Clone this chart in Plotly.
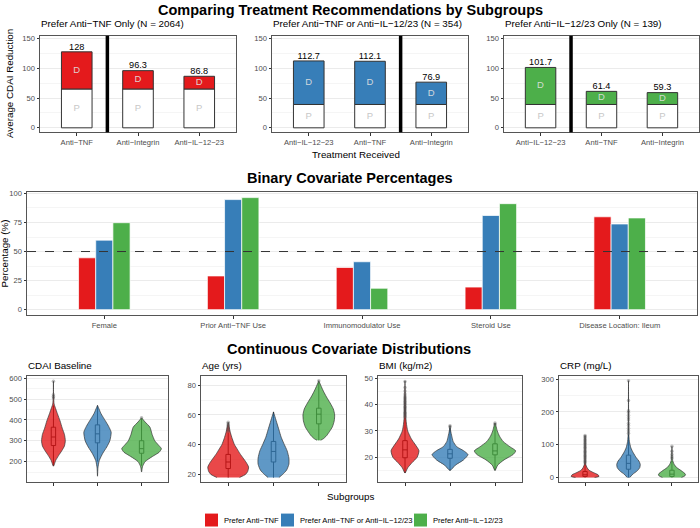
import plotly.graph_objects as go

W, H = 700, 528
FONT = "Liberation Sans, Arial, sans-serif"
GROUP_COLORS = ["#E41A1C", "#377EB8", "#4DAF4A"]
GROUP_FILLS = ["rgba(228,26,28,0.8)", "rgba(55,126,184,0.8)", "rgba(77,175,74,0.8)"]
legend_names = ["Prefer Anti−TNF", "Prefer Anti−TNF or Anti−IL−12/23", "Prefer Anti−IL−12/23"]

# ---------------- Top: treatment comparison ----------------
main_title = "Comparing Treatment Recommendations by Subgroups"
panel_titles = ["Prefer Anti−TNF Only (N = 2064)",
                "Prefer Anti−TNF or Anti−IL−12/23 (N = 354)",
                "Prefer Anti−IL−12/23 Only (N = 139)"]
treat_1 = ["Anti−TNF", "Anti−Integrin", "Anti−IL−12−23"]
treat_2 = ["Anti−IL−12−23", "Anti−TNF", "Anti−Integrin"]
treat_3 = ["Anti−IL−12−23", "Anti−TNF", "Anti−Integrin"]
total_1 = [128, 96.3, 86.8]
total_2 = [112.7, 112.1, 76.9]
total_3 = [101.7, 61.4, 59.3]
prog_1 = [65.4, 65.4, 65.4]
prog_2 = [39.3, 39.3, 39.3]
prog_3 = [39.3, 39.3, 39.3]
n_recommended = [1, 2, 1]

# ---------------- Middle: binary covariates ----------------
bin_title = "Binary Covariate Percentages"
bin_cats = ["Female", "Prior Anti−TNF Use", "Immunomodulator Use", "Steroid Use", "Disease Location: Ileum"]
bin_tnf = [44.6, 29.0, 36.3, 19.4, 79.9]
bin_both = [59.8, 94.7, 41.2, 81.0, 73.7]
bin_il = [74.8, 96.4, 18.4, 91.2, 78.9]
ref_line = 50

# ---------------- Bottom: continuous covariates ----------------
cont_title = "Continuous Covariate Distributions"
cont_titles = ["CDAI Baseline", "Age (yrs)", "BMI (kg/m2)", "CRP (mg/L)"]

# violin profiles: value levels and half-widths; box = [lower, q1, median, q3, upper]
cdai_tnf_y = [178, 205, 230, 252, 275, 300, 330, 360, 395, 430, 460, 476, 520, 585]
cdai_tnf_w = [0.0, 0.05, 0.12, 0.19, 0.25, 0.27, 0.25, 0.2, 0.15, 0.09, 0.04, 0.015, 0.003, 0.0]
cdai_tnf_box = [180, 277, 318, 365, 470]
cdai_tnf_out = [505, 512, 520, 585]
cdai_both_y = [130, 170, 205, 240, 270, 300, 341, 370, 395, 430, 470]
cdai_both_w = [0.0, 0.01, 0.04, 0.12, 0.21, 0.28, 0.31, 0.25, 0.18, 0.08, 0.0]
cdai_both_box = [200, 290, 333, 376, 468]
cdai_both_out = []
cdai_il_y = [150, 175, 200, 225, 245, 262, 280, 300, 330, 365, 390, 410]
cdai_il_w = [0.0, 0.02, 0.08, 0.25, 0.4, 0.45, 0.38, 0.3, 0.24, 0.19, 0.08, 0.0]
cdai_il_box = [180, 240, 262, 300, 405]
cdai_il_out = [410]

age_tnf_y = [18, 20, 22, 25, 28, 31, 34, 37, 40, 44, 48, 52, 55]
age_tnf_w = [0.25, 0.38, 0.43, 0.45, 0.4, 0.33, 0.26, 0.2, 0.14, 0.09, 0.05, 0.02, 0.0]
age_tnf_box = [18, 24, 28.4, 33.5, 48]
age_tnf_out = [49, 50, 51, 52, 53, 54, 55]
age_both_y = [18, 20, 23, 27, 31, 36, 40, 45, 50, 55, 60, 62]
age_both_w = [0.12, 0.2, 0.29, 0.34, 0.34, 0.3, 0.24, 0.17, 0.12, 0.07, 0.02, 0.0]
age_both_box = [18, 28.4, 35.5, 42.2, 62]
age_both_out = []
age_il_y = [43, 44, 46, 49, 52, 56, 60, 64, 68, 72, 76, 80, 83]
age_il_w = [0.04, 0.1, 0.17, 0.24, 0.3, 0.34, 0.35, 0.32, 0.25, 0.17, 0.1, 0.04, 0.0]
age_il_box = [43, 54, 60.5, 64.5, 82]
age_il_out = [83]

bmi_tnf_y = [14, 16, 18, 20, 22.5, 25, 27, 30, 33, 36, 40, 45, 49]
bmi_tnf_w = [0.0, 0.06, 0.16, 0.27, 0.31, 0.22, 0.14, 0.06, 0.03, 0.015, 0.008, 0.003, 0.0]
bmi_tnf_box = [14, 19.8, 22.8, 26.3, 35]
bmi_tnf_out = [35.3, 35.8, 36.2, 36.7, 37.1, 37.6, 38.0, 38.5, 39.0, 39.4, 39.9, 40.3,
               40.8, 41.3, 41.7, 42.2, 42.7, 43.3, 44.0, 45.2, 46.5, 48.8]
bmi_both_y = [15, 17, 19, 21, 22.5, 24, 26, 28, 30, 32]
bmi_both_w = [0.0, 0.12, 0.3, 0.4, 0.3, 0.15, 0.07, 0.04, 0.015, 0.0]
bmi_both_box = [15, 19.6, 21.3, 23.0, 31]
bmi_both_out = [31.5, 32]
bmi_il_y = [15, 17, 19, 21, 22.4, 24, 26, 28, 30, 32, 33]
bmi_il_w = [0.0, 0.06, 0.2, 0.4, 0.46, 0.33, 0.18, 0.1, 0.05, 0.02, 0.0]
bmi_il_box = [15, 20.9, 22.4, 25.1, 32]
bmi_il_out = [32.5, 33]

crp_tnf_y = [0, 3, 8, 15, 22, 30, 40, 50, 128]
crp_tnf_w = [0.22, 0.32, 0.3, 0.19, 0.09, 0.045, 0.015, 0.005, 0.0]
crp_tnf_box = [0, 3, 8, 18, 40]
crp_tnf_out = [44, 48, 52, 56, 60, 64, 68, 72, 76, 80, 84, 88, 92, 96, 100, 104,
               108, 112, 116, 120, 124, 128]
crp_both_y = [0, 10, 20, 30, 40, 50, 60, 75, 90, 110, 140, 200, 295]
crp_both_w = [0.03, 0.1, 0.2, 0.26, 0.27, 0.24, 0.18, 0.11, 0.055, 0.02, 0.005, 0.002, 0.0]
crp_both_box = [0, 25, 43, 68, 130]
crp_both_out = [135, 142, 150, 158, 165, 175, 182, 190, 198, 203, 235, 295]
crp_il_y = [0, 5, 10, 20, 30, 40, 55, 95]
crp_il_w = [0.22, 0.3, 0.31, 0.22, 0.11, 0.05, 0.01, 0.0]
crp_il_box = [0, 3, 10, 22, 50]
crp_il_out = [58, 63, 70, 80, 95]

# ======================================================================
def dom_x(a, b):
    return [a / W, b / W]


def dom_y(top, bottom):
    return [1 - bottom / H, 1 - top / H]


def px(x):
    return x / W


def py(y):
    return 1 - y / H


fig = go.Figure()
annotations = []
shapes = []


def txt(x, y, s, size, color="black", bold=False, xanchor="center", yanchor="middle", angle=0):
    annotations.append(dict(
        x=px(x), y=py(y), xref="paper", yref="paper", showarrow=False,
        text=f"<b>{s}</b>" if bold else s, textangle=angle,
        xanchor=xanchor, yanchor=yanchor, borderpad=0,
        font=dict(family=FONT, size=size, color=color)))


TICKFONT = dict(family=FONT, size=7.6, color="#4d4d4d")
FRAME = "#555555"


def xaxis_def(dom, anchor, rng, tickvals, ticktext, show_labels=True):
    return dict(domain=dom, anchor=anchor, range=rng, tickmode="array", tickvals=tickvals,
                ticktext=ticktext, showticklabels=show_labels, showgrid=False, zeroline=False,
                showline=True, mirror=True, linecolor=FRAME, linewidth=1,
                ticks="outside", ticklen=2.5, tickcolor="#333333", tickfont=TICKFONT)


def yaxis_def(dom, anchor, rng, dtick):
    return dict(domain=dom, anchor=anchor, range=rng, tickmode="linear", tick0=0, dtick=dtick,
                showgrid=True, gridcolor="#EBEBEB", gridwidth=1, zeroline=False,
                minor=dict(dtick=dtick / 2, showgrid=True, gridcolor="#F5F5F5", gridwidth=0.6),
                showline=True, mirror=True, linecolor=FRAME, linewidth=1,
                ticks="outside", ticklen=2.5, tickcolor="#333333", tickfont=TICKFONT)


layout_axes = {}

# ---------------- Top panels ----------------
txt(350, 7, main_title, 14.5, bold=True)
top_treat = [treat_1, treat_2, treat_3]
top_total = [total_1, total_2, total_3]
top_prog = [prog_1, prog_2, prog_3]
top_px = [(40, 236), (272, 468), (504, 699)]
for p in range(3):
    k = "" if p == 0 else str(p + 1)
    xa, ya = "x" + k, "y" + k
    cats = top_treat[p]
    pos = list(range(1, len(cats) + 1))
    tot = top_total[p]
    prog = top_prog[p]
    drug = [t - g for t, g in zip(tot, prog)]
    fig.add_trace(go.Bar(x=pos, y=prog, width=0.5, xaxis=xa, yaxis=ya, showlegend=False,
                         marker=dict(color="white", line=dict(color="#333333", width=1)),
                         hoverinfo="skip"))
    fig.add_trace(go.Bar(x=pos, y=drug, base=prog, width=0.5, xaxis=xa, yaxis=ya, showlegend=False,
                         marker=dict(color=GROUP_COLORS[p], line=dict(color="#333333", width=1)),
                         hoverinfo="skip"))
    fig.add_trace(go.Scatter(x=pos, y=tot, mode="text", text=[f"{v:g}" for v in tot],
                             textposition="top center", xaxis=xa, yaxis=ya, showlegend=False,
                             textfont=dict(family=FONT, size=9.2, color="black"),
                             hoverinfo="skip", cliponaxis=False))
    fig.add_trace(go.Scatter(x=pos, y=[g / 2 for g in prog], mode="text", text=["P"] * len(pos),
                             textposition="middle center", xaxis=xa, yaxis=ya, showlegend=False,
                             textfont=dict(family=FONT, size=9.5, color="#c8c8c8"), hoverinfo="skip"))
    fig.add_trace(go.Scatter(x=pos, y=[g + d / 2 for g, d in zip(prog, drug)], mode="text",
                             text=["D"] * len(pos), textposition="middle center", xaxis=xa, yaxis=ya,
                             showlegend=False,
                             textfont=dict(family=FONT, size=9.5, color="rgba(225,225,225,0.9)"),
                             hoverinfo="skip"))
    shapes.append(dict(type="line", xref=xa, yref=ya + " domain", x0=n_recommended[p] + 0.5,
                       x1=n_recommended[p] + 0.5, y0=0, y1=1, line=dict(color="black", width=3.5)))
    layout_axes["xaxis" + k] = xaxis_def(dom_x(*top_px[p]), ya, [0.4, len(cats) + 0.6], pos, cats)
    layout_axes["yaxis" + k] = yaxis_def(dom_y(33, 130), xa, [-7.5, 155], 50)
    txt(top_px[p][0], 21, panel_titles[p], 9.8, xanchor="left")

txt(9, 81.5, "Average CDAI Reduction", 9.8, angle=-90)
txt(356, 152, "Treatment Received", 9.8)

# ---------------- Middle: binary ----------------
txt(350, 176.5, bin_title, 14.5, bold=True)
bin_pos = list(range(1, len(bin_cats) + 1))
bin_series = [bin_tnf, bin_both, bin_il]
group_w = 0.4
for g, vals in enumerate(bin_series):
    fig.add_trace(go.Bar(x=bin_pos, y=vals, width=group_w / 3, offset=-group_w / 2 + g * group_w / 3,
                         xaxis="x4", yaxis="y4", showlegend=False, hoverinfo="skip",
                         marker=dict(color=GROUP_COLORS[g], line=dict(color="rgba(255,255,255,0.9)", width=0.8))))
shapes.append(dict(type="line", xref="x4 domain", yref="y4", x0=0, x1=1, y0=ref_line, y1=ref_line,
                   line=dict(color="#333333", width=1, dash="dash")))
layout_axes["xaxis4"] = xaxis_def(dom_x(27, 697), "y4", [0.4, len(bin_cats) + 0.6], bin_pos, bin_cats)
layout_axes["yaxis4"] = yaxis_def(dom_y(190, 314), "x4", [-4.8, 101.3], 25)
txt(5, 252, "Percentage (%)", 9.8, angle=-90)

# ---------------- Bottom: continuous ----------------
txt(349, 347.5, cont_title, 14.5, bold=True)
cont_profiles = [
    [(cdai_tnf_y, cdai_tnf_w, cdai_tnf_box, cdai_tnf_out),
     (cdai_both_y, cdai_both_w, cdai_both_box, cdai_both_out),
     (cdai_il_y, cdai_il_w, cdai_il_box, cdai_il_out)],
    [(age_tnf_y, age_tnf_w, age_tnf_box, age_tnf_out),
     (age_both_y, age_both_w, age_both_box, age_both_out),
     (age_il_y, age_il_w, age_il_box, age_il_out)],
    [(bmi_tnf_y, bmi_tnf_w, bmi_tnf_box, bmi_tnf_out),
     (bmi_both_y, bmi_both_w, bmi_both_box, bmi_both_out),
     (bmi_il_y, bmi_il_w, bmi_il_box, bmi_il_out)],
    [(crp_tnf_y, crp_tnf_w, crp_tnf_box, crp_tnf_out),
     (crp_both_y, crp_both_w, crp_both_box, crp_both_out),
     (crp_il_y, crp_il_w, crp_il_box, crp_il_out)],
]
cont_ranges = [[101, 611], [14.8, 86.2], [10.5, 50.9], [-14.75, 309.75]]
cont_dticks = [100, 20, 10, 100]
cont_px = [(27, 168), (201, 346), (378, 522), (559, 698)]
for v in range(4):
    k = str(v + 5)
    xa, ya = "x" + k, "y" + k
    for g, (ys, ws, box, outs) in enumerate(cont_profiles[v]):
        pos = g + 1
        vx = [pos + w for w in ws] + [pos - w for w in reversed(ws)]
        vy = list(ys) + list(reversed(ys))
        fig.add_trace(go.Scatter(x=vx, y=vy, mode="lines", fill="toself",
                                 fillcolor=GROUP_FILLS[g],
                                 line=dict(color="#333333", width=0.7, shape="spline", smoothing=0.6),
                                 xaxis=xa, yaxis=ya, showlegend=False, hoverinfo="skip"))
        fig.add_trace(go.Box(x=[pos], lowerfence=[box[0]], q1=[box[1]], median=[box[2]],
                             q3=[box[3]], upperfence=[box[4]], width=0.1, whiskerwidth=0,
                             fillcolor="rgba(0,0,0,0)", line=dict(color="black", width=1),
                             boxpoints=False, xaxis=xa, yaxis=ya, showlegend=False, hoverinfo="skip"))
        if outs:
            fig.add_trace(go.Scatter(x=[pos] * len(outs), y=outs, mode="markers",
                                     marker=dict(size=3.5, color="rgba(70,70,70,0.35)"),
                                     xaxis=xa, yaxis=ya, showlegend=False, hoverinfo="skip"))
    layout_axes["xaxis" + k] = xaxis_def(dom_x(*cont_px[v]), ya, [0.4, 3.6], [1, 2, 3],
                                         ["", "", ""], show_labels=False)
    layout_axes["yaxis" + k] = yaxis_def(dom_y(375, 482), xa, cont_ranges[v], cont_dticks[v])
    txt(cont_px[v][0], 365, cont_titles[v], 9.8, xanchor="left")

txt(350, 496.5, "Subgroups", 9.8)

# ---------------- Legend (manual) ----------------
legend_sq_x = [205, 281, 414]
for g, name in enumerate(legend_names):
    x0 = legend_sq_x[g]
    shapes.append(dict(type="rect", xref="paper", yref="paper", x0=px(x0), x1=px(x0 + 13),
                       y0=py(526.5), y1=py(513.5), fillcolor=GROUP_COLORS[g], line=dict(width=0)))
    txt(x0 + 18, 520, name, 7.6, xanchor="left")

fig.update_layout(
    width=W, height=H, autosize=False,
    margin=dict(l=0, r=0, t=0, b=0),
    paper_bgcolor="white", plot_bgcolor="white",
    barmode="overlay", boxmode="overlay",
    showlegend=False,
    font=dict(family=FONT),
    annotations=annotations, shapes=shapes,
    **layout_axes,
)

fig.write_html("out.html", config={"displayModeBar": False},
               post_script="document.body.style.margin='0px';")
